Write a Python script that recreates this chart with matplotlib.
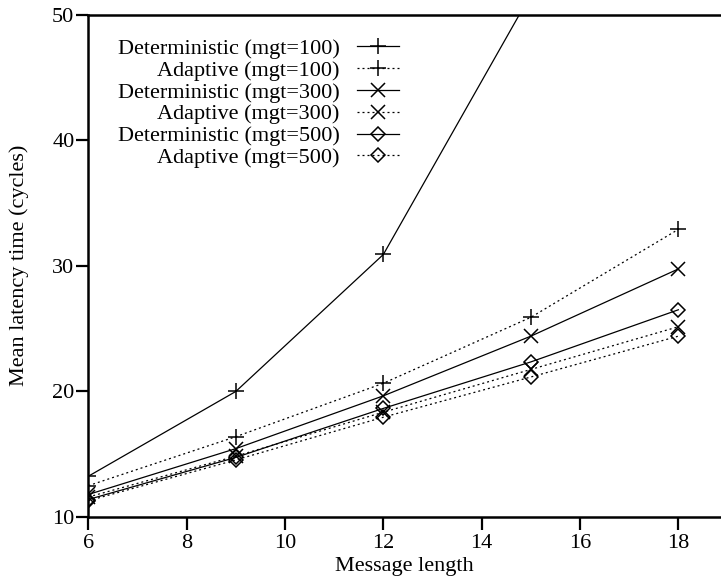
from pathlib import Path

import matplotlib.pyplot as plt
import numpy as np

# data
msg_len = [6, 9, 12, 15, 18]
det_100 = [13.25, 20.0, 30.9, 51.6, 75.0]
ada_100 = [12.5, 16.4, 20.65, 25.9, 32.9]
det_300 = [11.8, 15.45, 19.65, 24.4, 29.75]
ada_300 = [11.6, 14.85, 18.35, 21.75, 25.15]
det_500 = [11.4, 14.75, 18.65, 22.35, 26.5]
ada_500 = [11.3, 14.55, 17.95, 21.15, 24.4]
labels = [
    "Deterministic (mgt=100)",
    "Adaptive (mgt=100)",
    "Deterministic (mgt=300)",
    "Adaptive (mgt=300)",
    "Deterministic (mgt=500)",
    "Adaptive (mgt=500)",
]
x_ticks = [6, 8, 10, 12, 14, 16, 18]
y_ticks = [10, 20, 30, 40, 50]


def main() -> None:
    # config
    fp: Path = Path("out.png")
    plt.rcParams["figure.dpi"] = 100
    plt.rcParams["font.family"] = ["Liberation Serif", "DejaVu Serif"]
    plt.rcParams["font.size"] = 16
    solid = "-"
    dotted = (0, (1.6, 2.4))
    fig, ax = plt.subplots(figsize=(7.21, 5.81))
    fig.subplots_adjust(left=0.1225, right=1.0, bottom=0.110, top=0.975)

    series = [
        (det_100, solid, "+", 12),
        (ada_100, dotted, "+", 12),
        (det_300, solid, "x", 10),
        (ada_300, dotted, "x", 10),
        (det_500, solid, "D", 7.5),
        (ada_500, dotted, "D", 7.5),
    ]
    for (ys, ls, mk, ms), lab in zip(series, labels):
        ax.plot(msg_len, ys, color="black", linestyle=ls, linewidth=0.9,
                marker=mk, markersize=ms, markeredgewidth=1.1,
                markerfacecolor="none", label=lab)

    # arrange
    ax.set_xlim(6, 6 + (721 - 88.3) / 49.17)
    ax.set_ylim(10, 50)
    ax.set_xticks(x_ticks)
    ax.set_yticks(y_ticks)
    ax.spines["right"].set_visible(False)
    for s in ("left", "bottom", "top"):
        ax.spines[s].set_linewidth(1.8)
    ax.tick_params(direction="out", length=9, width=1.6, labelsize=16)
    ax.tick_params(axis="y", pad=1)
    ax.tick_params(axis="x", pad=3)
    ax.set_xlabel("Message length", fontsize=16, labelpad=3)
    ax.set_ylabel("Mean latency time (cycles)", fontsize=16, labelpad=17)

    ax.legend(loc="upper left", bbox_to_anchor=(0.029, 0.975), frameon=False,
              markerfirst=False, borderpad=0, labelspacing=0.06,
              handlelength=1.85, handletextpad=0.8, fontsize=16)

    # output
    fig.savefig(fp)
    plt.close(fig)
    return None


if __name__ == "__main__":
    main()
